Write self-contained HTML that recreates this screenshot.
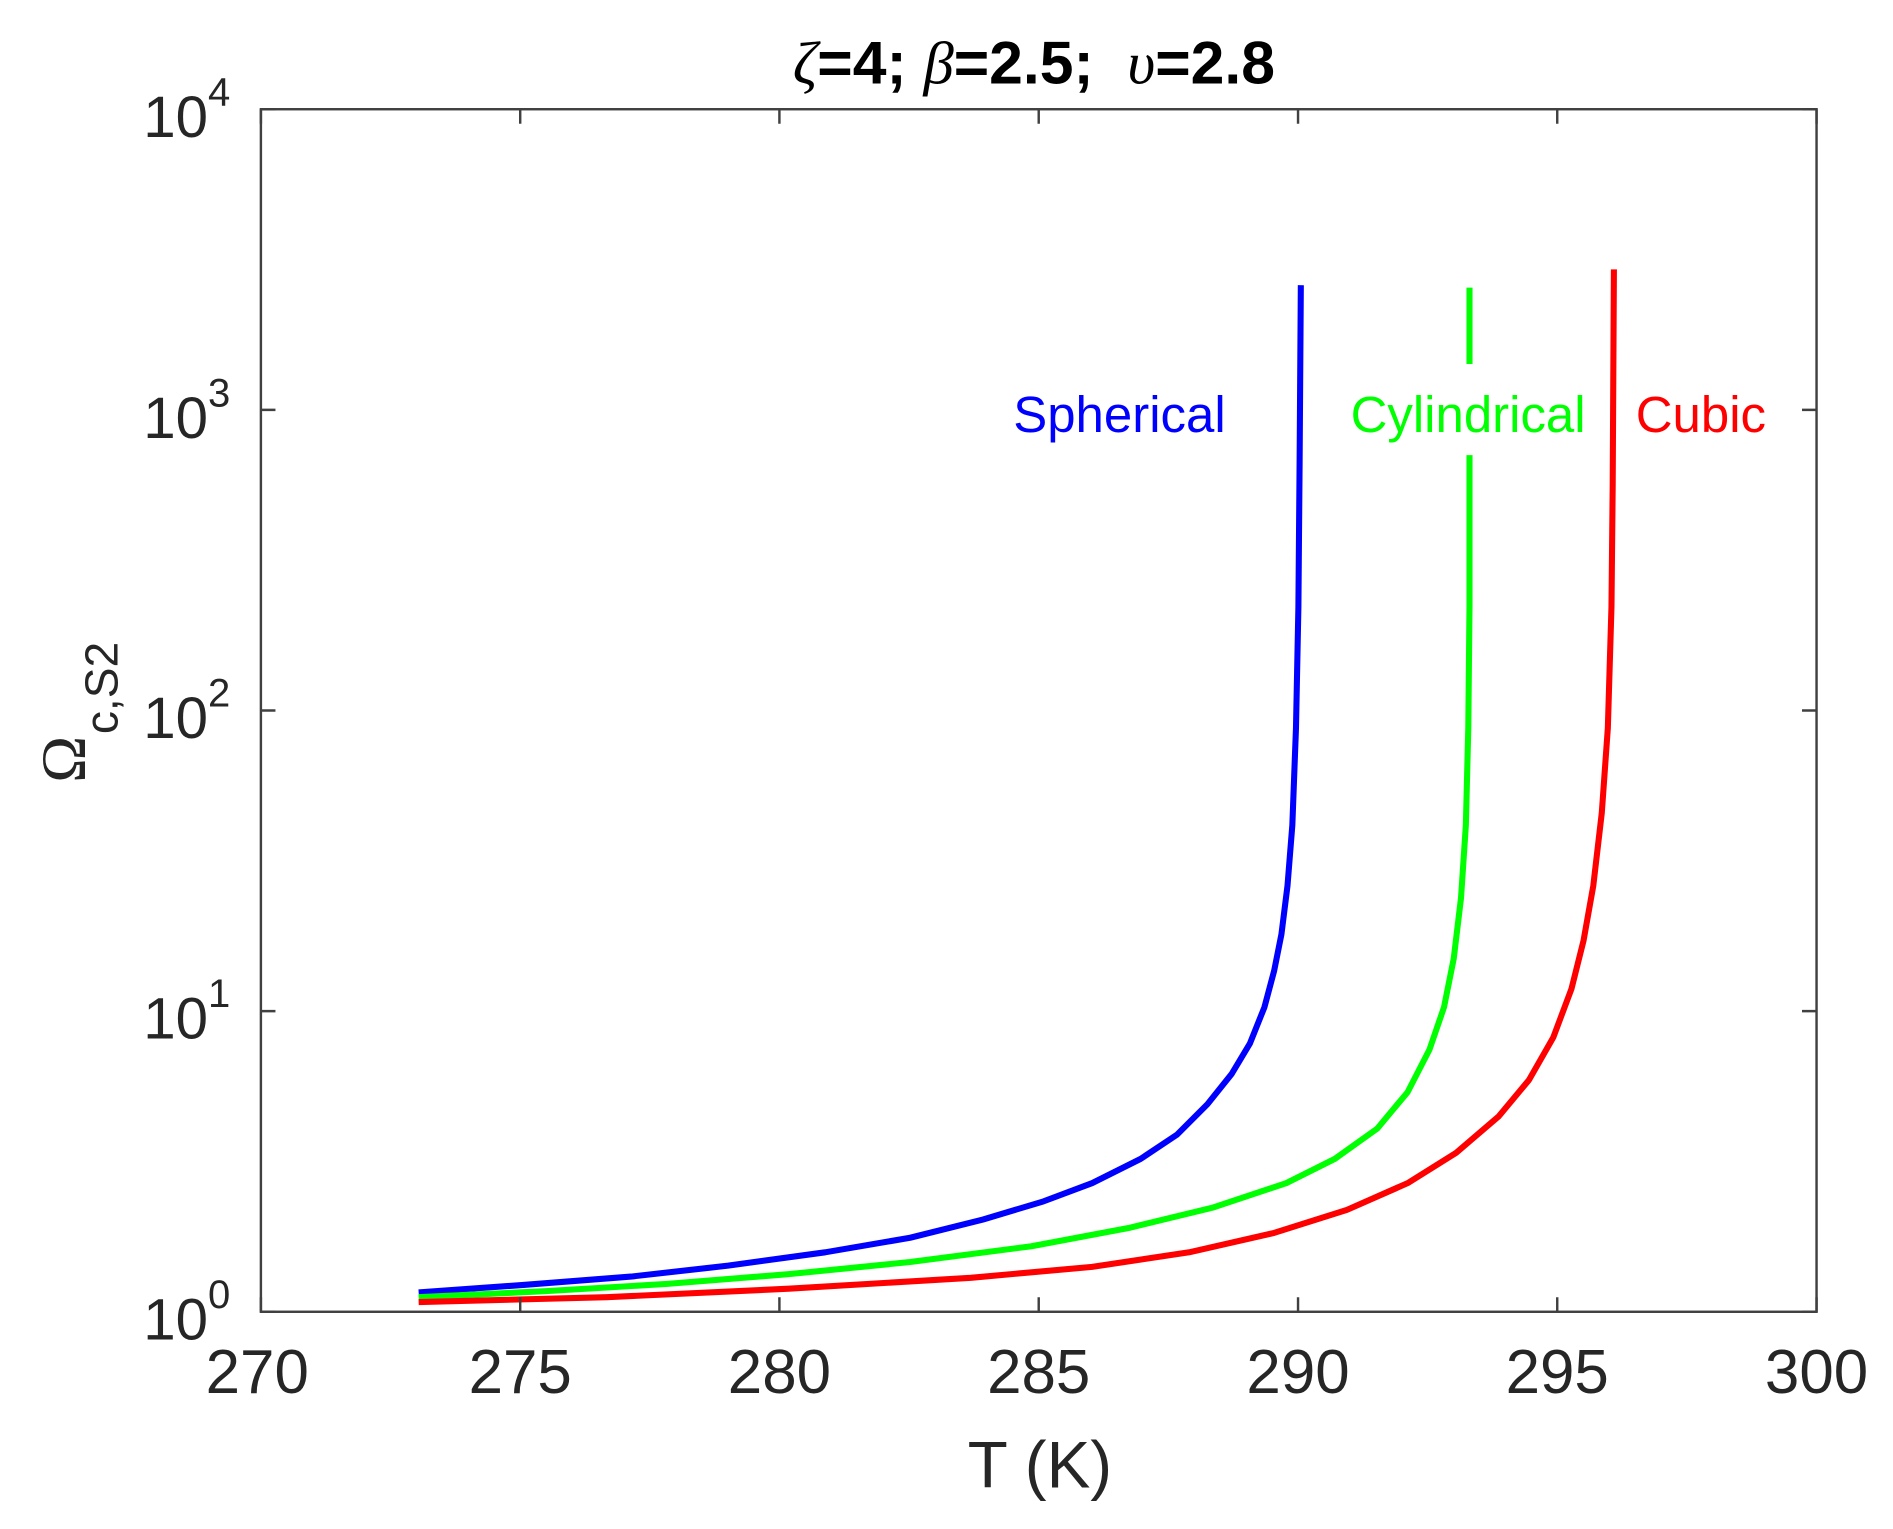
<!DOCTYPE html>
<html><head><meta charset="utf-8"><style>
html,body{margin:0;padding:0;background:#fff;}
svg{display:block;}
text{font-family:"Liberation Sans",sans-serif;fill:#262626;white-space:pre;}
</style></head><body>
<svg width="1893" height="1529" viewBox="0 0 1560 1260" xmlns="http://www.w3.org/2000/svg" xml:space="preserve">
<rect width="1560" height="1260" fill="#fff"/>
<text x="852" y="69" text-anchor="middle" font-size="50" font-weight="bold" style="fill:#000"><tspan font-family="Liberation Serif" font-style="italic" font-weight="normal">ζ</tspan>=4; <tspan font-family="Liberation Serif" font-style="italic" font-weight="normal">β</tspan>=2.5;  <tspan font-family="Liberation Serif" font-style="italic" font-weight="normal">υ</tspan>=2.8</text>
<g fill="none" stroke-width="5" stroke-linejoin="round" stroke-linecap="butt">
<polyline stroke="#0000ff" points="345,1065 430,1059 520,1052 600,1043 680,1032 750,1020 810,1005 860,990 900,975 940,955 970,935 995,910 1015,885 1030,860 1042,830 1050,800 1056,770 1061,730 1065,680 1068,600 1070,500 1071,380 1072,235"/>
<polyline stroke="#00ff00" points="345,1069 450,1064 550,1058 650,1050 750,1040 850,1027 930,1012 1000,995 1060,975 1100,955 1135,930 1160,900 1178,865 1190,830 1198,790 1204,740 1208,680 1210,600 1211,500 1211,375"/>
<polyline stroke="#00ff00" points="1211,300 1211,237"/>
<polyline stroke="#ff0000" points="345,1073 500,1069 650,1062 800,1053 900,1044 980,1032 1050,1016 1110,997 1160,975 1200,950 1235,920 1260,890 1280,855 1295,815 1305,775 1313,730 1320,670 1325,600 1328,500 1329,400 1330,222"/>
</g>
<text x="835" y="356" font-size="42" style="fill:#0000ff">Spherical</text>
<text x="1113" y="356" font-size="42" style="fill:#00ff00">Cylindrical</text>
<text x="1348" y="356" font-size="42" style="fill:#ff0000">Cubic</text>
<rect x="215" y="90" width="1282" height="991" fill="none" stroke="#404040" stroke-width="2"/>
<g stroke="#404040" stroke-width="2">
<path d="M215,1081v-12M215,90v12M428.7,1081v-12M428.7,90v12M642.3,1081v-12M642.3,90v12M856,1081v-12M856,90v12M1069.7,1081v-12M1069.7,90v12M1283.3,1081v-12M1283.3,90v12M1497,1081v-12M1497,90v12"/>
<path d="M215,1081h12M1497,1081h-12M215,833.25h12M1497,833.25h-12M215,585.5h12M1497,585.5h-12M215,337.75h12M1497,337.75h-12M215,90h12M1497,90h-12"/>
<path id="minor" d=""/>
</g>
<g font-size="51">
<text x="212" y="1148" text-anchor="middle">270</text>
<text x="428.7" y="1148" text-anchor="middle">275</text>
<text x="642.3" y="1148" text-anchor="middle">280</text>
<text x="856" y="1148" text-anchor="middle">285</text>
<text x="1069.7" y="1148" text-anchor="middle">290</text>
<text x="1283.3" y="1148" text-anchor="middle">295</text>
<text x="1497" y="1148" text-anchor="middle">300</text>
</g>
<g font-size="48">
<text x="118" y="1104">10<tspan font-size="33" dy="-26">0</tspan></text>
<text x="118" y="856">10<tspan font-size="33" dy="-26">1</tspan></text>
<text x="118" y="608">10<tspan font-size="33" dy="-26">2</tspan></text>
<text x="118" y="361">10<tspan font-size="33" dy="-26">3</tspan></text>
<text x="118" y="113">10<tspan font-size="33" dy="-26">4</tspan></text>
</g>
<text x="857" y="1226" text-anchor="middle" font-size="54">T (K)</text>
<g transform="translate(70,645) rotate(-90)">
<text x="0" y="0" font-size="52" style="font-family:'Liberation Serif',serif">Ω</text>
<text x="40" y="27" font-size="38">c,S2</text>
</g>
<script>
var d="";var L=[2,3,4,5,6,7,8,9];
for(var k=0;k<4;k++){for(var i=0;i<L.length;i++){var y=1081-247.75*(k+Math.log10(L[i]));d+="M215,"+y.toFixed(1)+"h7M1497,"+y.toFixed(1)+"h-7";}}
document.getElementById("minor").setAttribute("d",d);
</script>
</svg>
</body></html>
